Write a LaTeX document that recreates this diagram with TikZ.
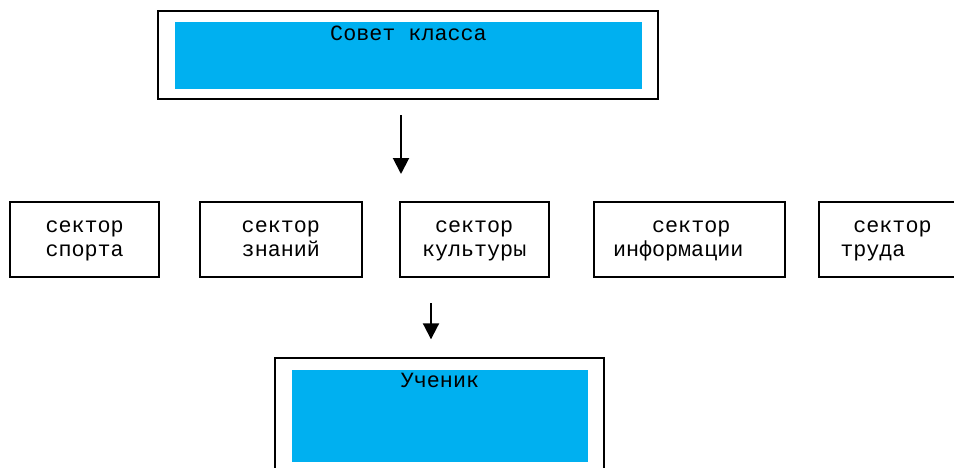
\documentclass[tikz,border=0pt]{standalone}
\usepackage{fontspec}
\setmonofont{Liberation Mono}
\usetikzlibrary{positioning,arrows.meta}
\definecolor{wordblue}{HTML}{00B0F0}
\newcommand\pxu{*0.75pt}
\newcommand\boxfont{\ttfamily\fontsize{16.3pt}{17.5pt}\selectfont}
\newcommand\pad{\hphantom{с}}
\tikzset{
	>={Triangle[width=12pt,length=12pt]}
}

\begin{document}
\begin{tikzpicture}[
	x = 0.75pt, y = -0.75pt,
	every node/.style = {
		font = \boxfont,
		outer sep = 0pt
	},
	frame/.style = {
		draw,
		line width = 2\pxu,
		inner sep = 0pt
	},
	fillbox/.style = {
		fill = wordblue,
		inner sep = 0pt
	},
	sector/.style = {
		draw,
		line width = 2\pxu,
		minimum height = 75.5\pxu,
		inner ysep = 0pt,
		text height = 9pt,
		text depth = 19.05pt
	},
	arrow/.style = {
		->,
		line width = 2\pxu
	}
	]
	
	\useasboundingbox (0,0) rectangle (954,468);
	
	\node[frame, minimum width = 500\pxu, minimum height = 88.6\pxu] (council) at (408.3,55) {};
	\node[fillbox, minimum width = 467\pxu, minimum height = 66.7\pxu] (councilfill) at (408.5,55.3) {};
	\node[anchor = base] (councilname) at (408.5,40) {Совет класса};
	
	\coordinate (topstart) at (401,115);
	\coordinate (topend) at (401,174);
	\draw[arrow] (topstart) -- (topend);
	
	\node[sector, anchor = north west, text width = 149.3\pxu, inner xsep = 0pt, align = center] (sport) at (10,201.7) {сектор\\спорта};
	\node[sector, right = 40.7\pxu of sport, text width = 161.7\pxu, inner xsep = 0pt, align = center] (knowledge) {сектор\\знаний};
	\node[sector, right = 38.3\pxu of knowledge, text width = 105\pxu, inner xsep = 22\pxu, align = left] (culture) {\pad сектор\\культуры};
	\node[sector, right = 45\pxu of culture, text width = 153\pxu, inner xsep = 19\pxu, align = left] (info) {\pad\pad\pad сектор\\информации};
	\node[sector, right = 34.3\pxu of info, text width = 107\pxu, inner xsep = 21\pxu, align = left] (labour) {\pad сектор\\труда};
	
	\coordinate (lowstart) at (431,303.3);
	\coordinate (lowend) at (431,339.3);
	\draw[arrow] (lowstart) -- (lowend);
	
	\node[frame, minimum width = 329.3\pxu, minimum height = 115.1\pxu] (pupil) at (439.7,415.9) {};
	\node[fillbox, minimum width = 296.6\pxu, minimum height = 91.7\pxu] (pupilfill) at (440,415.85) {};
	\node[anchor = base] (pupilname) at (440,387.3) {Ученик};
	
\end{tikzpicture}
\end{document}
